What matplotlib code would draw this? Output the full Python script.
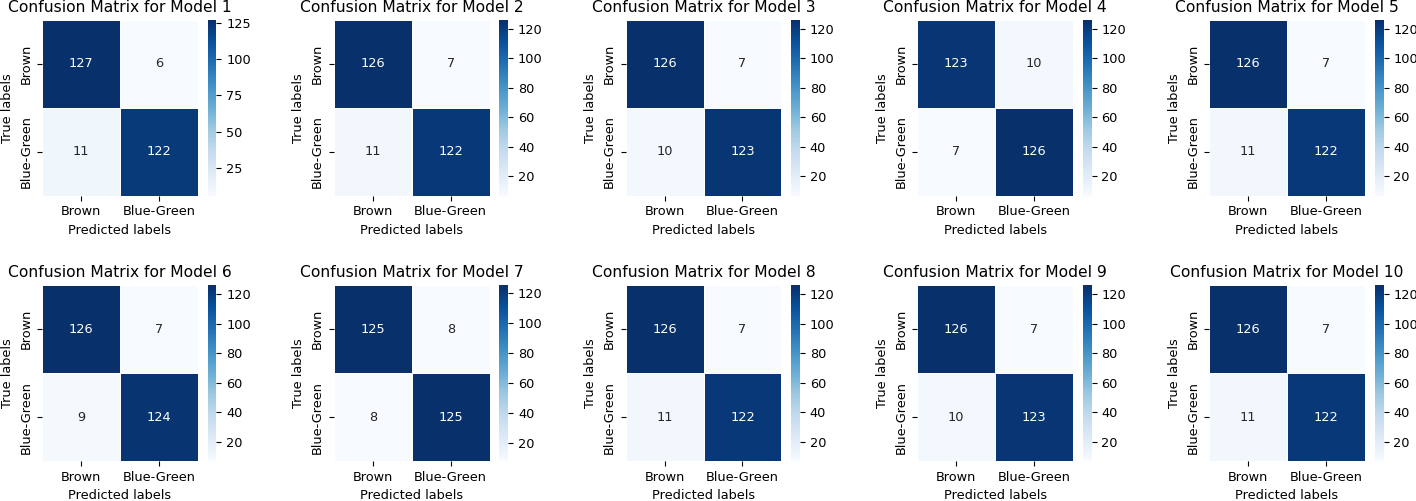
import matplotlib
matplotlib.use("Agg")
import matplotlib.pyplot as plt
import numpy as np
import seaborn as sns

# confusion matrix cells per model (rows: true, cols: predicted)
brown_as_brown = [127, 126, 126, 123, 126, 126, 125, 126, 126, 126]
brown_as_bg = [6, 7, 7, 10, 7, 7, 8, 7, 7, 7]
bg_as_brown = [11, 11, 10, 7, 11, 9, 8, 11, 10, 11]
bg_as_bg = [122, 122, 123, 126, 122, 124, 125, 122, 123, 122]
class_names = ["Brown", "Blue-Green"]

plt.rcParams["font.size"] = 9.3
plt.rcParams["axes.titlesize"] = 11.2

fig, axes = plt.subplots(2, 5, figsize=(14.16, 5.01), dpi=100)
fig.subplots_adjust(left=42 / 1416, right=1404 / 1416, top=1 - 20 / 501,
                    bottom=1 - 461 / 501, wspace=0.497, hspace=0.511)

for i, ax in enumerate(axes.flat):
    cm = np.array([[brown_as_brown[i], brown_as_bg[i]],
                   [bg_as_brown[i], bg_as_bg[i]]])
    sns.heatmap(cm, annot=True, fmt="d", cmap="Blues", ax=ax,
                linewidths=0.5, linecolor="white",
                xticklabels=class_names, yticklabels=class_names)
    ax.set_xlabel("Predicted labels")
    ax.set_ylabel("True labels")
    ax.set_title(f"Confusion Matrix for Model {i + 1}")

fig.savefig("out.png", dpi=100)
